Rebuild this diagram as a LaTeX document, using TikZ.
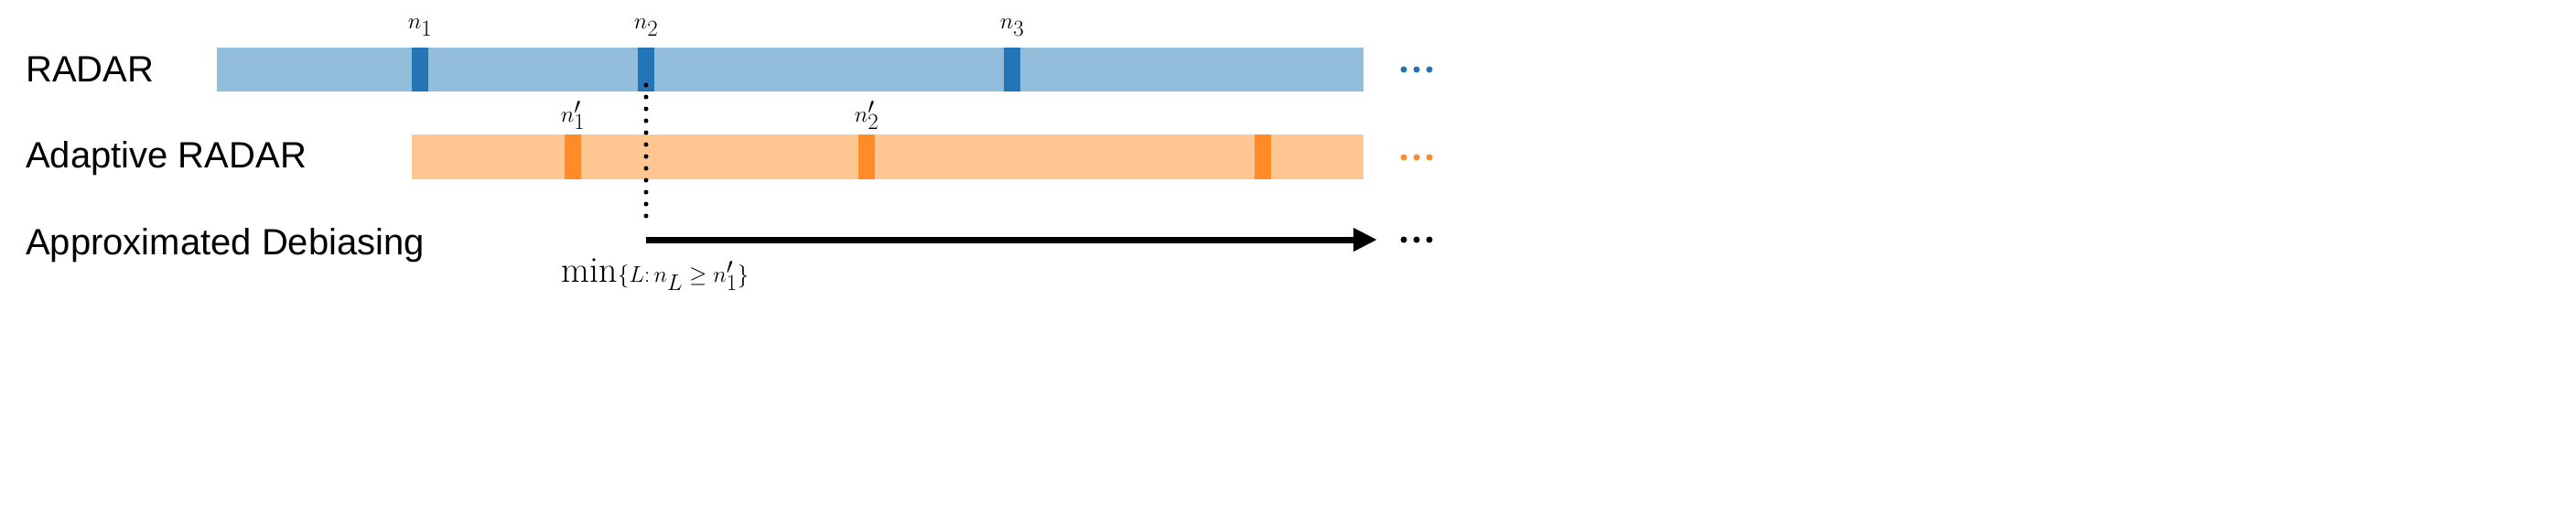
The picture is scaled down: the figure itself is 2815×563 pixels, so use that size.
\documentclass[tikz,border=0pt]{standalone}
\usepackage{fontspec}
\setsansfont{Liberation Sans}
\usetikzlibrary{arrows.meta}
\definecolor{lblue}{RGB}{147,190,219}
\definecolor{dblue}{RGB}{36,117,181}
\definecolor{lorange}{RGB}{254,198,145}
\definecolor{dorange}{RGB}{255,140,40}
\begin{document}
\begin{tikzpicture}[x=1pt,y=-1pt,
  lab/.style={anchor=west,font=\sffamily\fontsize{40}{44}\selectfont,inner sep=0},
  mlab/.style={font=\fontsize{40}{44}\selectfont,inner sep=0},
  dotsty/.style={line width=7pt,line cap=round,dash pattern=on 0pt off 14pt}]
\useasboundingbox (0,0) rectangle (2815,563);
% RADAR row
\node[lab] (r) at (28,76) {RADAR};
\fill[lblue] (237,52) rectangle (1490,100);
\foreach \x/\n in {450/1,697/2,1097/3}{
  \fill[dblue] (\x,52) rectangle (\x+18,100);
  \node[mlab] (n\n) at (\x+9,30) {$n_\n$};
}
\draw[dotsty,draw=dblue] (1534,76) -- (1566,76);
% Adaptive
\node[lab] (a) at (28,173) {Adaptive RADAR};
\fill[lorange] (450,147) rectangle (1490,196);
\foreach \x in {617,938,1371} \fill[dorange] (\x,147) rectangle (\x+18,196);
\node[mlab] (m1) at (626,126) {$n_1'$};
\node[mlab] (m2) at (947,126) {$n_2'$};
\draw[dotsty,draw=dorange] (1534,172) -- (1566,172);
% Debiasing
\node[lab] (d) at (28,268) {Approximated Debiasing};
\coordinate (top) at (706,93);
\coordinate (bot) at (706,248);
\draw[line width=5pt,line cap=round,dash pattern=on 0pt off 13pt] (top) -- (bot);
\coordinate (s) at (706,262);
\coordinate (e) at (1505,262);
\draw[line width=7pt,-{Triangle[length=26pt,width=24pt]}] (s) -- (e);
\draw[dotsty,draw=black] (1534,262) -- (1566,262);
\node[mlab] (ml) at (716,300) {$\min\{L\colon n_L \geq n_1'\}$};
\end{tikzpicture}
\end{document}
